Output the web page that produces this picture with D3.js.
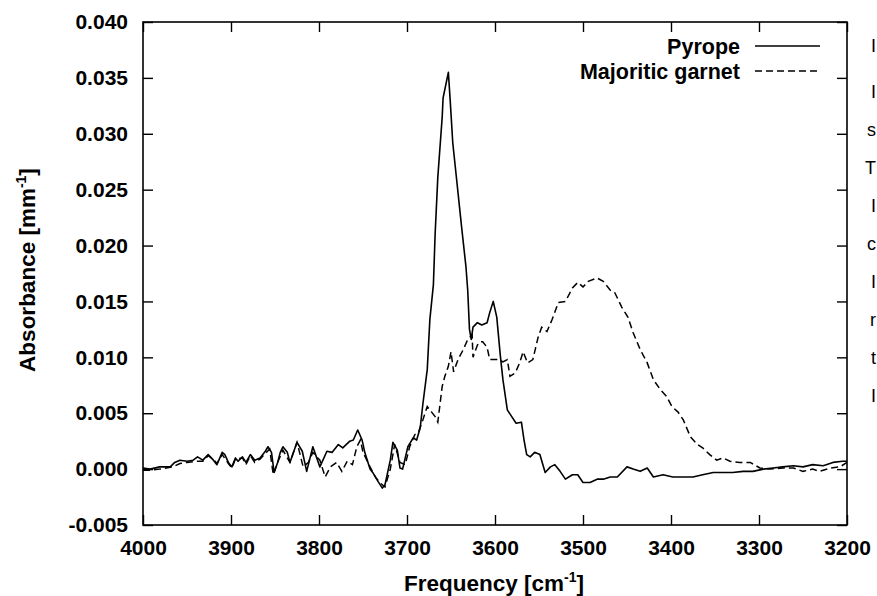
<!DOCTYPE html>
<html>
<head>
<meta charset="utf-8">
<script src="https://cdn.jsdelivr.net/npm/d3@7"></script>
<style>
  html, body { margin: 0; padding: 0; background: #fff; overflow: hidden; }
  svg { display: block; font-family: "Liberation Sans", Arial, Helvetica, sans-serif; }
</style>
</head>
<body>
<svg id="chart" width="877" height="596"></svg>
<script>
// IR absorbance spectra in the OH-stretching region
const seriesNames = ["Pyrope", "Majoritic garnet"];

const freqPyrope = [4000,3992,3981,3969,3964,3958,3950,3943,3938,3932,3926,3920,3916,3910,3907,3903,3899,3895,3892,3887,3883,3878,3873,3867,3861,3858,3854,3851,3847,3844,3841,3836,3833,3825,3819,3814,3807,3799,3791,3785,3778,3773,3765,3761,3756,3751,3748,3742,3739,3733,3728,3725,3719,3716,3711,3708,3705,3699,3693,3689,3685,3682,3677,3674,3670,3668,3665,3660,3659,3653,3651,3648,3644,3638,3633,3631,3629,3627,3625,3620,3615,3609,3606,3602,3598,3594,3591,3586,3581,3576,3570,3567,3564,3560,3555,3549,3543,3537,3532,3526,3520,3512,3506,3500,3492,3484,3477,3469,3461,3450,3443,3435,3427,3420,3409,3398,3386,3375,3364,3352,3341,3330,3318,3307,3295,3284,3273,3261,3250,3239,3227,3216,3205,3200];
const absPyrope = [0.0001,0.0000,0.0002,0.0002,0.0006,0.0008,0.0007,0.0008,0.0011,0.0008,0.0013,0.0008,0.0004,0.0015,0.0013,0.0006,0.0002,0.0010,0.0007,0.0011,0.0006,0.0013,0.0008,0.0010,0.0016,0.0020,0.0015,-0.0003,0.0006,0.0015,0.0020,0.0015,0.0006,0.0024,0.0016,-0.0002,0.0020,0.0002,0.0016,0.0015,0.0022,0.0019,0.0025,0.0026,0.0035,0.0026,0.0015,0.0000,-0.0003,-0.0011,-0.0017,-0.0014,0.0008,0.0024,0.0017,0.0001,0.0000,0.0020,0.0028,0.0026,0.0037,0.0058,0.0089,0.0134,0.0165,0.0211,0.0261,0.0315,0.0332,0.0355,0.0331,0.0292,0.0262,0.0217,0.0181,0.0160,0.0125,0.0116,0.0127,0.0131,0.0129,0.0131,0.0140,0.0150,0.0136,0.0102,0.0080,0.0053,0.0047,0.0041,0.0042,0.0026,0.0013,0.0011,0.0015,0.0013,-0.0003,0.0002,0.0004,-0.0002,-0.0009,-0.0005,-0.0005,-0.0012,-0.0012,-0.0009,-0.0009,-0.0007,-0.0007,0.0002,0.0000,-0.0002,0.0001,-0.0007,-0.0005,-0.0007,-0.0007,-0.0007,-0.0005,-0.0003,-0.0003,-0.0003,-0.0002,-0.0002,0.0000,0.0001,0.0002,0.0003,0.0002,0.0004,0.0003,0.0006,0.0007,0.0007];

const freqMajorite = [4000,3992,3981,3966,3958,3950,3938,3932,3926,3920,3916,3910,3903,3899,3895,3887,3883,3878,3873,3867,3861,3856,3852,3847,3841,3833,3825,3818,3812,3807,3799,3793,3787,3780,3774,3768,3762,3757,3753,3750,3742,3736,3731,3725,3719,3714,3708,3702,3697,3691,3687,3682,3677,3672,3668,3665,3660,3657,3653,3650,3647,3642,3636,3631,3626,3625,3620,3617,3614,3609,3606,3602,3597,3591,3586,3583,3577,3572,3568,3563,3557,3551,3547,3541,3535,3528,3520,3512,3506,3500,3494,3484,3477,3469,3464,3456,3449,3443,3435,3427,3420,3412,3405,3399,3392,3386,3378,3370,3364,3356,3348,3341,3333,3322,3310,3299,3288,3273,3261,3250,3239,3231,3219,3208,3200];
const absMajorite = [-0.0001,-0.0001,0.0000,0.0002,0.0005,0.0006,0.0007,0.0007,0.0012,0.0009,0.0005,0.0013,0.0005,0.0001,0.0009,0.0010,0.0004,0.0012,0.0006,0.0009,0.0014,0.0018,-0.0005,0.0006,0.0017,0.0006,0.0024,0.0002,0.0006,0.0015,0.0008,-0.0007,0.0002,0.0006,-0.0002,0.0007,0.0004,0.0020,0.0026,0.0015,0.0002,-0.0007,-0.0012,-0.0016,0.0000,0.0022,0.0006,0.0004,0.0020,0.0031,0.0033,0.0044,0.0056,0.0051,0.0047,0.0042,0.0074,0.0083,0.0092,0.0105,0.0087,0.0098,0.0107,0.0116,0.0120,0.0100,0.0111,0.0114,0.0114,0.0109,0.0098,0.0098,0.0098,0.0096,0.0098,0.0083,0.0086,0.0095,0.0105,0.0095,0.0098,0.0118,0.0127,0.0123,0.0134,0.0149,0.0150,0.0162,0.0167,0.0163,0.0168,0.0171,0.0168,0.0160,0.0158,0.0145,0.0136,0.0122,0.0107,0.0095,0.0080,0.0071,0.0065,0.0056,0.0051,0.0044,0.0029,0.0022,0.0019,0.0013,0.0008,0.0010,0.0007,0.0006,0.0006,0.0001,0.0000,0.0001,0.0001,-0.0002,0.0000,-0.0002,0.0001,0.0002,0.0006];

const xTicks = [4000,3900,3800,3700,3600,3500,3400,3300,3200];
const yTicks = [-0.005,0.000,0.005,0.010,0.015,0.020,0.025,0.030,0.035,0.040];

// Leading letters of the caption column beside the figure
const captionLines = ["I", "I", "s", "T", "I", "c", "I", "r", "t", "I"];

const svg = d3.select("#chart");
const mLeft = 143, mRight = 847, mTop = 22, mBottom = 525;
const tickLen = 10;

const x = d3.scaleLinear().domain([4000, 3200]).range([mLeft, mRight]);
const y = d3.scaleLinear().domain([-0.005, 0.040]).range([mBottom, mTop]);

svg.append("defs").append("clipPath").attr("id", "plotClip")
  .append("rect").attr("x", mLeft).attr("y", mTop)
  .attr("width", mRight - mLeft).attr("height", mBottom - mTop);

// Axes with inward ticks on all four sides
const fmtY = d => d3.format(".3f")(d).replace("\u2212", "-");
const gBottom = svg.append("g").attr("transform", `translate(0,${mBottom})`)
  .call(d3.axisBottom(x).tickValues(xTicks).tickSize(-tickLen).tickPadding(15).tickFormat(d3.format("d")));
const gTop = svg.append("g").attr("transform", `translate(0,${mTop})`)
  .call(d3.axisTop(x).tickValues(xTicks).tickSize(-tickLen).tickFormat(""));
const gLeft = svg.append("g").attr("transform", `translate(${mLeft},0)`)
  .call(d3.axisLeft(y).tickValues(yTicks).tickSize(-tickLen).tickPadding(15).tickFormat(fmtY));
const gRight = svg.append("g").attr("transform", `translate(${mRight},0)`)
  .call(d3.axisRight(y).tickValues(yTicks).tickSize(-tickLen).tickFormat(""));

[gBottom, gTop, gLeft, gRight].forEach(g => {
  g.select(".domain").remove();
  g.selectAll(".tick line").attr("stroke", "#000").attr("stroke-width", 1.4);
  g.selectAll(".tick text").attr("fill", "#000")
    .style("font-size", "21px").style("font-weight", "bold");
});

// Plot frame
svg.append("rect").attr("x", mLeft).attr("y", mTop)
  .attr("width", mRight - mLeft).attr("height", mBottom - mTop)
  .attr("fill", "none").attr("stroke", "#000").attr("stroke-width", 1.6);

// Spectra
const line = d3.line().x(d => x(d[0])).y(d => y(d[1]));
const pyrope = freqPyrope.map((f, i) => [f, absPyrope[i]]);
const majorite = freqMajorite.map((f, i) => [f, absMajorite[i]]);

const plot = svg.append("g").attr("clip-path", "url(#plotClip)");
plot.append("path").datum(majorite).attr("d", line)
  .attr("fill", "none").attr("stroke", "#000").attr("stroke-width", 1.5)
  .attr("stroke-dasharray", "7,4");
plot.append("path").datum(pyrope).attr("d", line)
  .attr("fill", "none").attr("stroke", "#000").attr("stroke-width", 1.6)
  .attr("stroke-linejoin", "round");

// Legend
const legend = svg.append("g");
const legendRows = [{ name: seriesNames[0], dash: null, cy: 46 }, { name: seriesNames[1], dash: "7,4", cy: 71 }];
legendRows.forEach(r => {
  legend.append("text").attr("x", 740).attr("y", r.cy).attr("dy", "0.35em")
    .attr("text-anchor", "end").style("font-size", "21.5px").style("font-weight", "bold")
    .text(r.name);
  legend.append("line").attr("x1", 755).attr("x2", 820).attr("y1", r.cy).attr("y2", r.cy)
    .attr("stroke", "#000").attr("stroke-width", r.dash ? 1.5 : 1.6)
    .attr("stroke-dasharray", r.dash);
});

// Axis titles
const xt = svg.append("text").attr("x", 494).attr("y", 591)
  .attr("text-anchor", "middle").style("font-size", "22.5px").style("font-weight", "bold");
xt.append("tspan").text("Frequency [cm");
xt.append("tspan").attr("dy", -9).style("font-size", "14px").text("-1");
xt.append("tspan").attr("dy", 9).text("]");

const yt = svg.append("text").attr("transform", `translate(35,270) rotate(-90)`)
  .attr("text-anchor", "middle").style("font-size", "22.5px").style("font-weight", "bold");
yt.append("tspan").text("Absorbance [mm");
yt.append("tspan").attr("dy", -9).style("font-size", "14px").text("-1");
yt.append("tspan").attr("dy", 9).text("]");

// Caption column at the right edge
svg.append("g").selectAll("text").data(captionLines).join("text")
  .attr("x", 876).attr("text-anchor", "end")
  .attr("y", (d, i) => i === 0 ? 46 : 92 + (i - 1) * 37.9).attr("dy", "0.35em")
  .style("font-size", "18px").attr("fill", "#000").text(d => d);
</script>
</body>
</html>
